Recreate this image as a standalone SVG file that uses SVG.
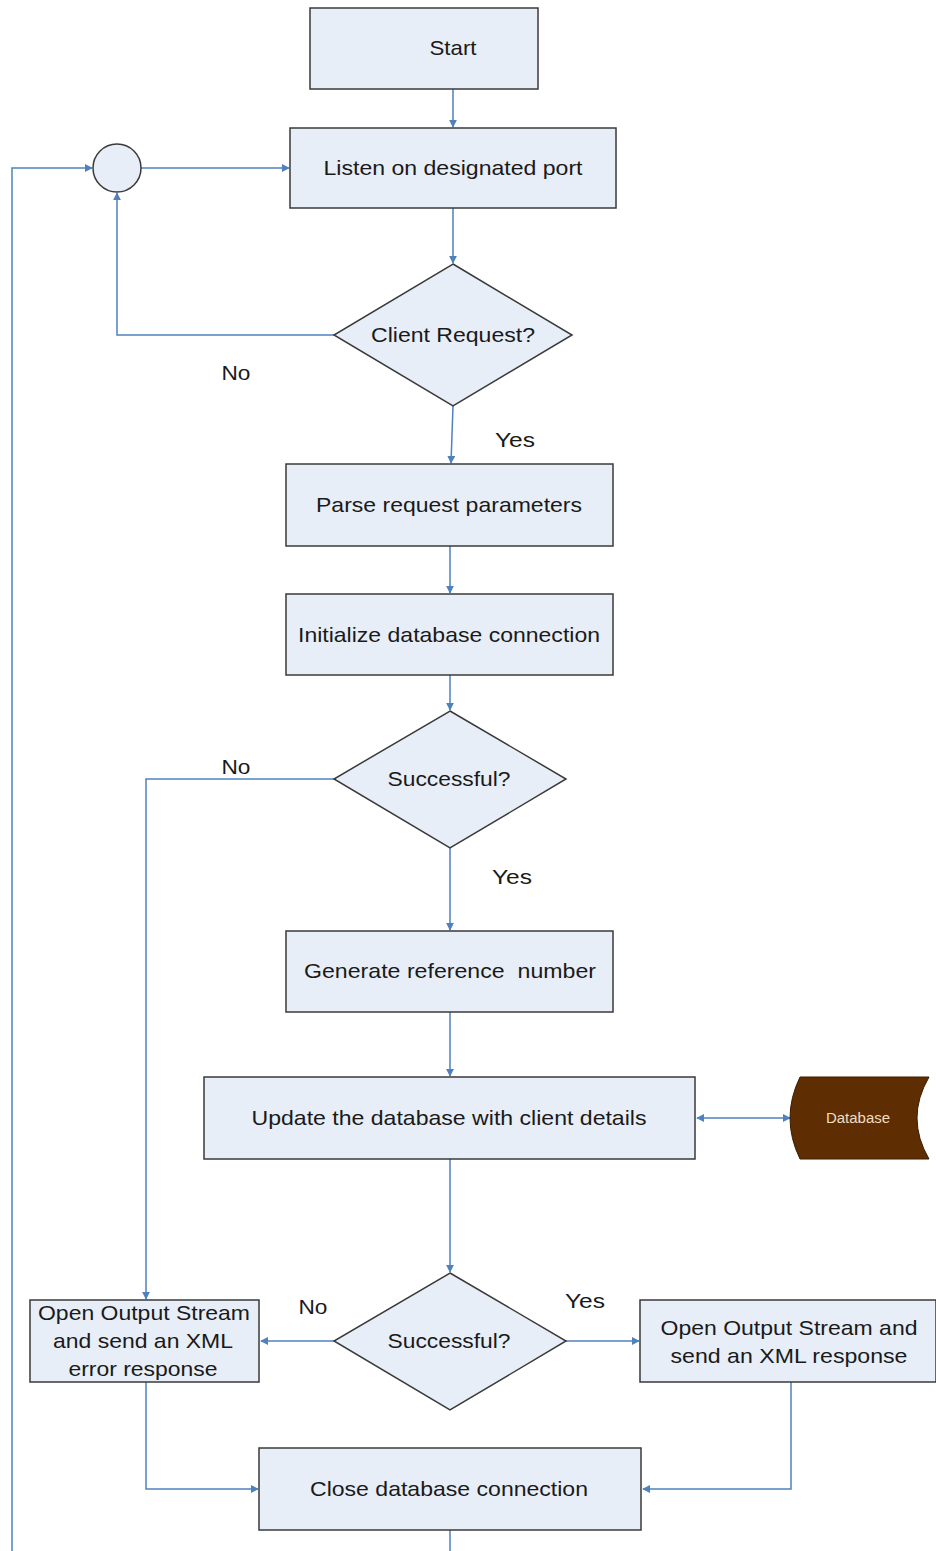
<svg xmlns="http://www.w3.org/2000/svg" width="936" height="1551" viewBox="0 0 936 1551">
  <defs>
    <style>
      .box { fill: #e8eef7; stroke: #3a3a3a; stroke-width: 1.5; }
      .lbl { font-family: "Liberation Sans", Arial, sans-serif; font-size: 21px; fill: #1a1a1a; text-anchor: middle; dominant-baseline: central; }
      .edge { fill: none; stroke: #4f81bd; stroke-width: 1.5; }
      .db { fill: #5e2e02; stroke: #3a1c00; stroke-width: 1; }
      .dbl { font-family: "Liberation Sans", Arial, sans-serif; font-size: 14px; fill: #f3dcc4; text-anchor: middle; dominant-baseline: central; }
    </style>
    <marker id="arr" viewBox="0 0 10 10" refX="9" refY="5" markerWidth="8" markerHeight="8" orient="auto-start-reverse" markerUnits="userSpaceOnUse">
      <path d="M0,0 L10,5 L0,10 z" fill="#4f81bd"/>
    </marker>
  </defs>
  <rect width="936" height="1551" fill="#ffffff"/>

  <g id="connectors">
    <line class="edge" x1="453" y1="89" x2="453" y2="127" marker-end="url(#arr)"/>
    <line class="edge" x1="141" y1="168" x2="289" y2="168" marker-end="url(#arr)"/>
    <line class="edge" x1="453" y1="208" x2="453" y2="263" marker-end="url(#arr)"/>
    <polyline class="edge" points="334,335 117,335 117,193" marker-end="url(#arr)"/>
    <line class="edge" x1="453" y1="406" x2="451" y2="463" marker-end="url(#arr)"/>
    <line class="edge" x1="450" y1="546" x2="450" y2="593" marker-end="url(#arr)"/>
    <line class="edge" x1="450" y1="675" x2="450" y2="710" marker-end="url(#arr)"/>
    <polyline class="edge" points="334,779 146,779 146,1299" marker-end="url(#arr)"/>
    <line class="edge" x1="450" y1="848" x2="450" y2="930" marker-end="url(#arr)"/>
    <line class="edge" x1="450" y1="1012" x2="450" y2="1076" marker-end="url(#arr)"/>
    <line class="edge" x1="697" y1="1118" x2="790" y2="1118" marker-start="url(#arr)" marker-end="url(#arr)"/>
    <line class="edge" x1="450" y1="1159" x2="450" y2="1272" marker-end="url(#arr)"/>
    <line class="edge" x1="334" y1="1341" x2="261" y2="1341" marker-end="url(#arr)"/>
    <line class="edge" x1="566" y1="1341" x2="639" y2="1341" marker-end="url(#arr)"/>
    <polyline class="edge" points="146,1382 146,1489 258,1489" marker-end="url(#arr)"/>
    <polyline class="edge" points="791,1382 791,1489 643,1489" marker-end="url(#arr)"/>
    <line class="edge" x1="450" y1="1530" x2="450" y2="1551"/>
    <polyline class="edge" points="12,1551 12,168 92,168" marker-end="url(#arr)"/>
  </g>

  <g id="start">
    <rect class="box" x="310" y="8" width="228" height="81"/>
    <text class="lbl" x="453" y="47" textLength="47" lengthAdjust="spacingAndGlyphs">Start</text>
  </g>
  <g id="merge">
    <circle class="box" cx="117" cy="168" r="24"/>
  </g>
  <g id="listen">
    <rect class="box" x="290" y="128" width="326" height="80"/>
    <text class="lbl" x="453" y="167" textLength="259" lengthAdjust="spacingAndGlyphs">Listen on designated port</text>
  </g>
  <g id="client-request">
    <polygon class="box" points="453,264 572,335 453,406 334,335"/>
    <text class="lbl" x="453" y="334" textLength="164" lengthAdjust="spacingAndGlyphs">Client Request?</text>
  </g>
  <g id="label-no-1"><text class="lbl" x="236" y="372" textLength="29" lengthAdjust="spacingAndGlyphs">No</text></g>
  <g id="label-yes-1"><text class="lbl" x="515" y="439" textLength="40" lengthAdjust="spacingAndGlyphs">Yes</text></g>
  <g id="parse">
    <rect class="box" x="286" y="464" width="327" height="82"/>
    <text class="lbl" x="449" y="504" textLength="266" lengthAdjust="spacingAndGlyphs">Parse request parameters</text>
  </g>
  <g id="init-db">
    <rect class="box" x="286" y="594" width="327" height="81"/>
    <text class="lbl" x="449" y="634" textLength="302" lengthAdjust="spacingAndGlyphs">Initialize database connection</text>
  </g>
  <g id="successful-1">
    <polygon class="box" points="450,711 566,779 450,848 334,779"/>
    <text class="lbl" x="449" y="778" textLength="123" lengthAdjust="spacingAndGlyphs">Successful?</text>
  </g>
  <g id="label-no-2"><text class="lbl" x="236" y="766" textLength="29" lengthAdjust="spacingAndGlyphs">No</text></g>
  <g id="label-yes-2"><text class="lbl" x="512" y="876" textLength="40" lengthAdjust="spacingAndGlyphs">Yes</text></g>
  <g id="generate">
    <rect class="box" x="286" y="931" width="327" height="81"/>
    <text class="lbl" x="450" y="970" xml:space="preserve" textLength="292" lengthAdjust="spacingAndGlyphs">Generate reference  number</text>
  </g>
  <g id="update">
    <rect class="box" x="204" y="1077" width="491" height="82"/>
    <text class="lbl" x="449" y="1117" textLength="395" lengthAdjust="spacingAndGlyphs">Update the database with client details</text>
  </g>
  <g id="database">
    <path class="db" d="M800,1077 L929,1077 Q905,1118 929,1159 L800,1159 Q780,1118 800,1077 Z"/>
    <text class="dbl" x="858" y="1118" textLength="64" lengthAdjust="spacingAndGlyphs">Database</text>
  </g>
  <g id="successful-2">
    <polygon class="box" points="450,1273 566,1341 450,1410 334,1341"/>
    <text class="lbl" x="449" y="1340" textLength="123" lengthAdjust="spacingAndGlyphs">Successful?</text>
  </g>
  <g id="label-no-3"><text class="lbl" x="313" y="1306" textLength="29" lengthAdjust="spacingAndGlyphs">No</text></g>
  <g id="label-yes-3"><text class="lbl" x="585" y="1300" textLength="40" lengthAdjust="spacingAndGlyphs">Yes</text></g>
  <g id="error-response">
    <rect class="box" x="30" y="1300" width="229" height="82"/>
    <text class="lbl" x="144" y="1312" textLength="212" lengthAdjust="spacingAndGlyphs">Open Output Stream</text>
    <text class="lbl" x="143" y="1340" textLength="180" lengthAdjust="spacingAndGlyphs">and send an XML</text>
    <text class="lbl" x="143" y="1368" textLength="149" lengthAdjust="spacingAndGlyphs">error response</text>
  </g>
  <g id="xml-response">
    <rect class="box" x="640" y="1300" width="296" height="82"/>
    <text class="lbl" x="789" y="1327" textLength="257" lengthAdjust="spacingAndGlyphs">Open Output Stream and</text>
    <text class="lbl" x="789" y="1355" textLength="237" lengthAdjust="spacingAndGlyphs">send an XML response</text>
  </g>
  <g id="close-db">
    <rect class="box" x="259" y="1448" width="382" height="82"/>
    <text class="lbl" x="449" y="1488" textLength="278" lengthAdjust="spacingAndGlyphs">Close database connection</text>
  </g>
</svg>
